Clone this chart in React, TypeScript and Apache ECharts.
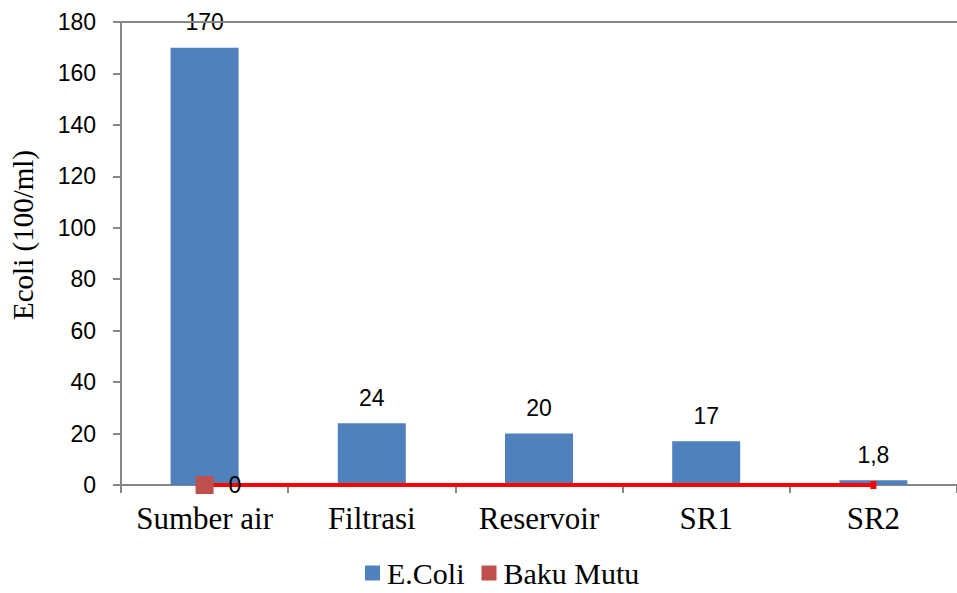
import React, { useEffect, useRef } from "react";
import * as echarts from "echarts";

const categories = ["Sumber air", "Filtrasi", "Reservoir", "SR1", "SR2"];
const ecoliValues = [170, 24, 20, 17, 1.8];
const bakuMutuValues = [0, 0, 0, 0, 0];
const yTicks = { min: 0, max: 180, interval: 20 };

const SERIF = "'Liberation Serif', 'Times New Roman', serif";
const SANS = "'Liberation Sans', Arial, sans-serif";
const AXIS_GRAY = "#868686";

export default function App() {
  const ref = useRef<HTMLDivElement>(null);
  useEffect(() => {
    if (!ref.current) return;
    const chart = echarts.init(ref.current, null, { renderer: "svg" });
    const last = bakuMutuValues.length - 1;
    chart.setOption({
      animation: false,
      backgroundColor: "#ffffff",
      grid: { left: 121, top: 22, width: 845, height: 463 },
      legend: {
        left: 365,
        top: 558,
        padding: 0,
        itemWidth: 15,
        itemHeight: 15,
        itemGap: 17,
        textStyle: { fontFamily: SERIF, fontSize: 30, color: "#000", padding: [0, 0, 0, 2] },
        data: [
          { name: "E.Coli", icon: "rect" },
          { name: "Baku Mutu", icon: "rect" },
        ],
      },
      graphic: [
        {
          type: "text",
          x: 23,
          y: 235,
          rotation: Math.PI / 2,
          style: {
            text: "Ecoli (100/ml)",
            fontFamily: SERIF,
            fontSize: 29,
            fill: "#000",
            align: "center",
            verticalAlign: "middle",
          },
        },
      ],
      xAxis: {
        type: "category",
        data: categories,
        boundaryGap: true,
        axisLine: { lineStyle: { color: AXIS_GRAY, width: 2 } },
        axisTick: { show: true, length: 8, lineStyle: { color: AXIS_GRAY, width: 2 } },
        axisLabel: { fontFamily: SERIF, fontSize: 31, color: "#000", margin: 18, interval: 0 },
      },
      yAxis: {
        type: "value",
        min: yTicks.min,
        max: yTicks.max,
        interval: yTicks.interval,
        splitLine: { show: false },
        axisLine: { show: true, lineStyle: { color: AXIS_GRAY, width: 2 } },
        axisTick: { show: true, length: 8, lineStyle: { color: AXIS_GRAY, width: 2 } },
        axisLabel: { fontFamily: SANS, fontSize: 23, color: "#000", margin: 25 },
      },
      series: [
        {
          name: "E.Coli",
          type: "bar",
          data: ecoliValues,
          barWidth: 68,
          itemStyle: { color: "#4F81BD" },
          label: {
            show: true,
            position: "top",
            distance: 14,
            fontFamily: SANS,
            fontSize: 23,
            color: "#000",
            formatter: (p: any) => String(p.value).replace(".", ","),
          },
          markLine: {
            silent: true,
            symbol: "none",
            label: { show: false },
            lineStyle: { color: AXIS_GRAY, width: 2, type: "solid" },
            data: [{ yAxis: yTicks.max }],
          },
          z: 2,
        },
        {
          name: "Baku Mutu",
          type: "line",
          z: 5,
          itemStyle: { color: "#C0504D" },
          lineStyle: { color: "#FF0000", width: 4 },
          symbol: "none",
          data: bakuMutuValues.map((v, i) =>
            i === 0
              ? {
                  value: v,
                  symbol: "rect",
                  symbolSize: 18,
                  label: {
                    show: true,
                    position: "right",
                    distance: 15,
                    fontFamily: SANS,
                    fontSize: 23,
                    color: "#000",
                  },
                }
              : i === last
              ? { value: v, symbol: "rect", symbolSize: [6, 8], itemStyle: { color: "#FF0000" } }
              : { value: v }
          ),
        },
      ],
    });
    return () => chart.dispose();
  }, []);
  return <div ref={ref} style={{ width: 957, height: 593, position: "absolute", left: 0, top: 0 }} />;
}
